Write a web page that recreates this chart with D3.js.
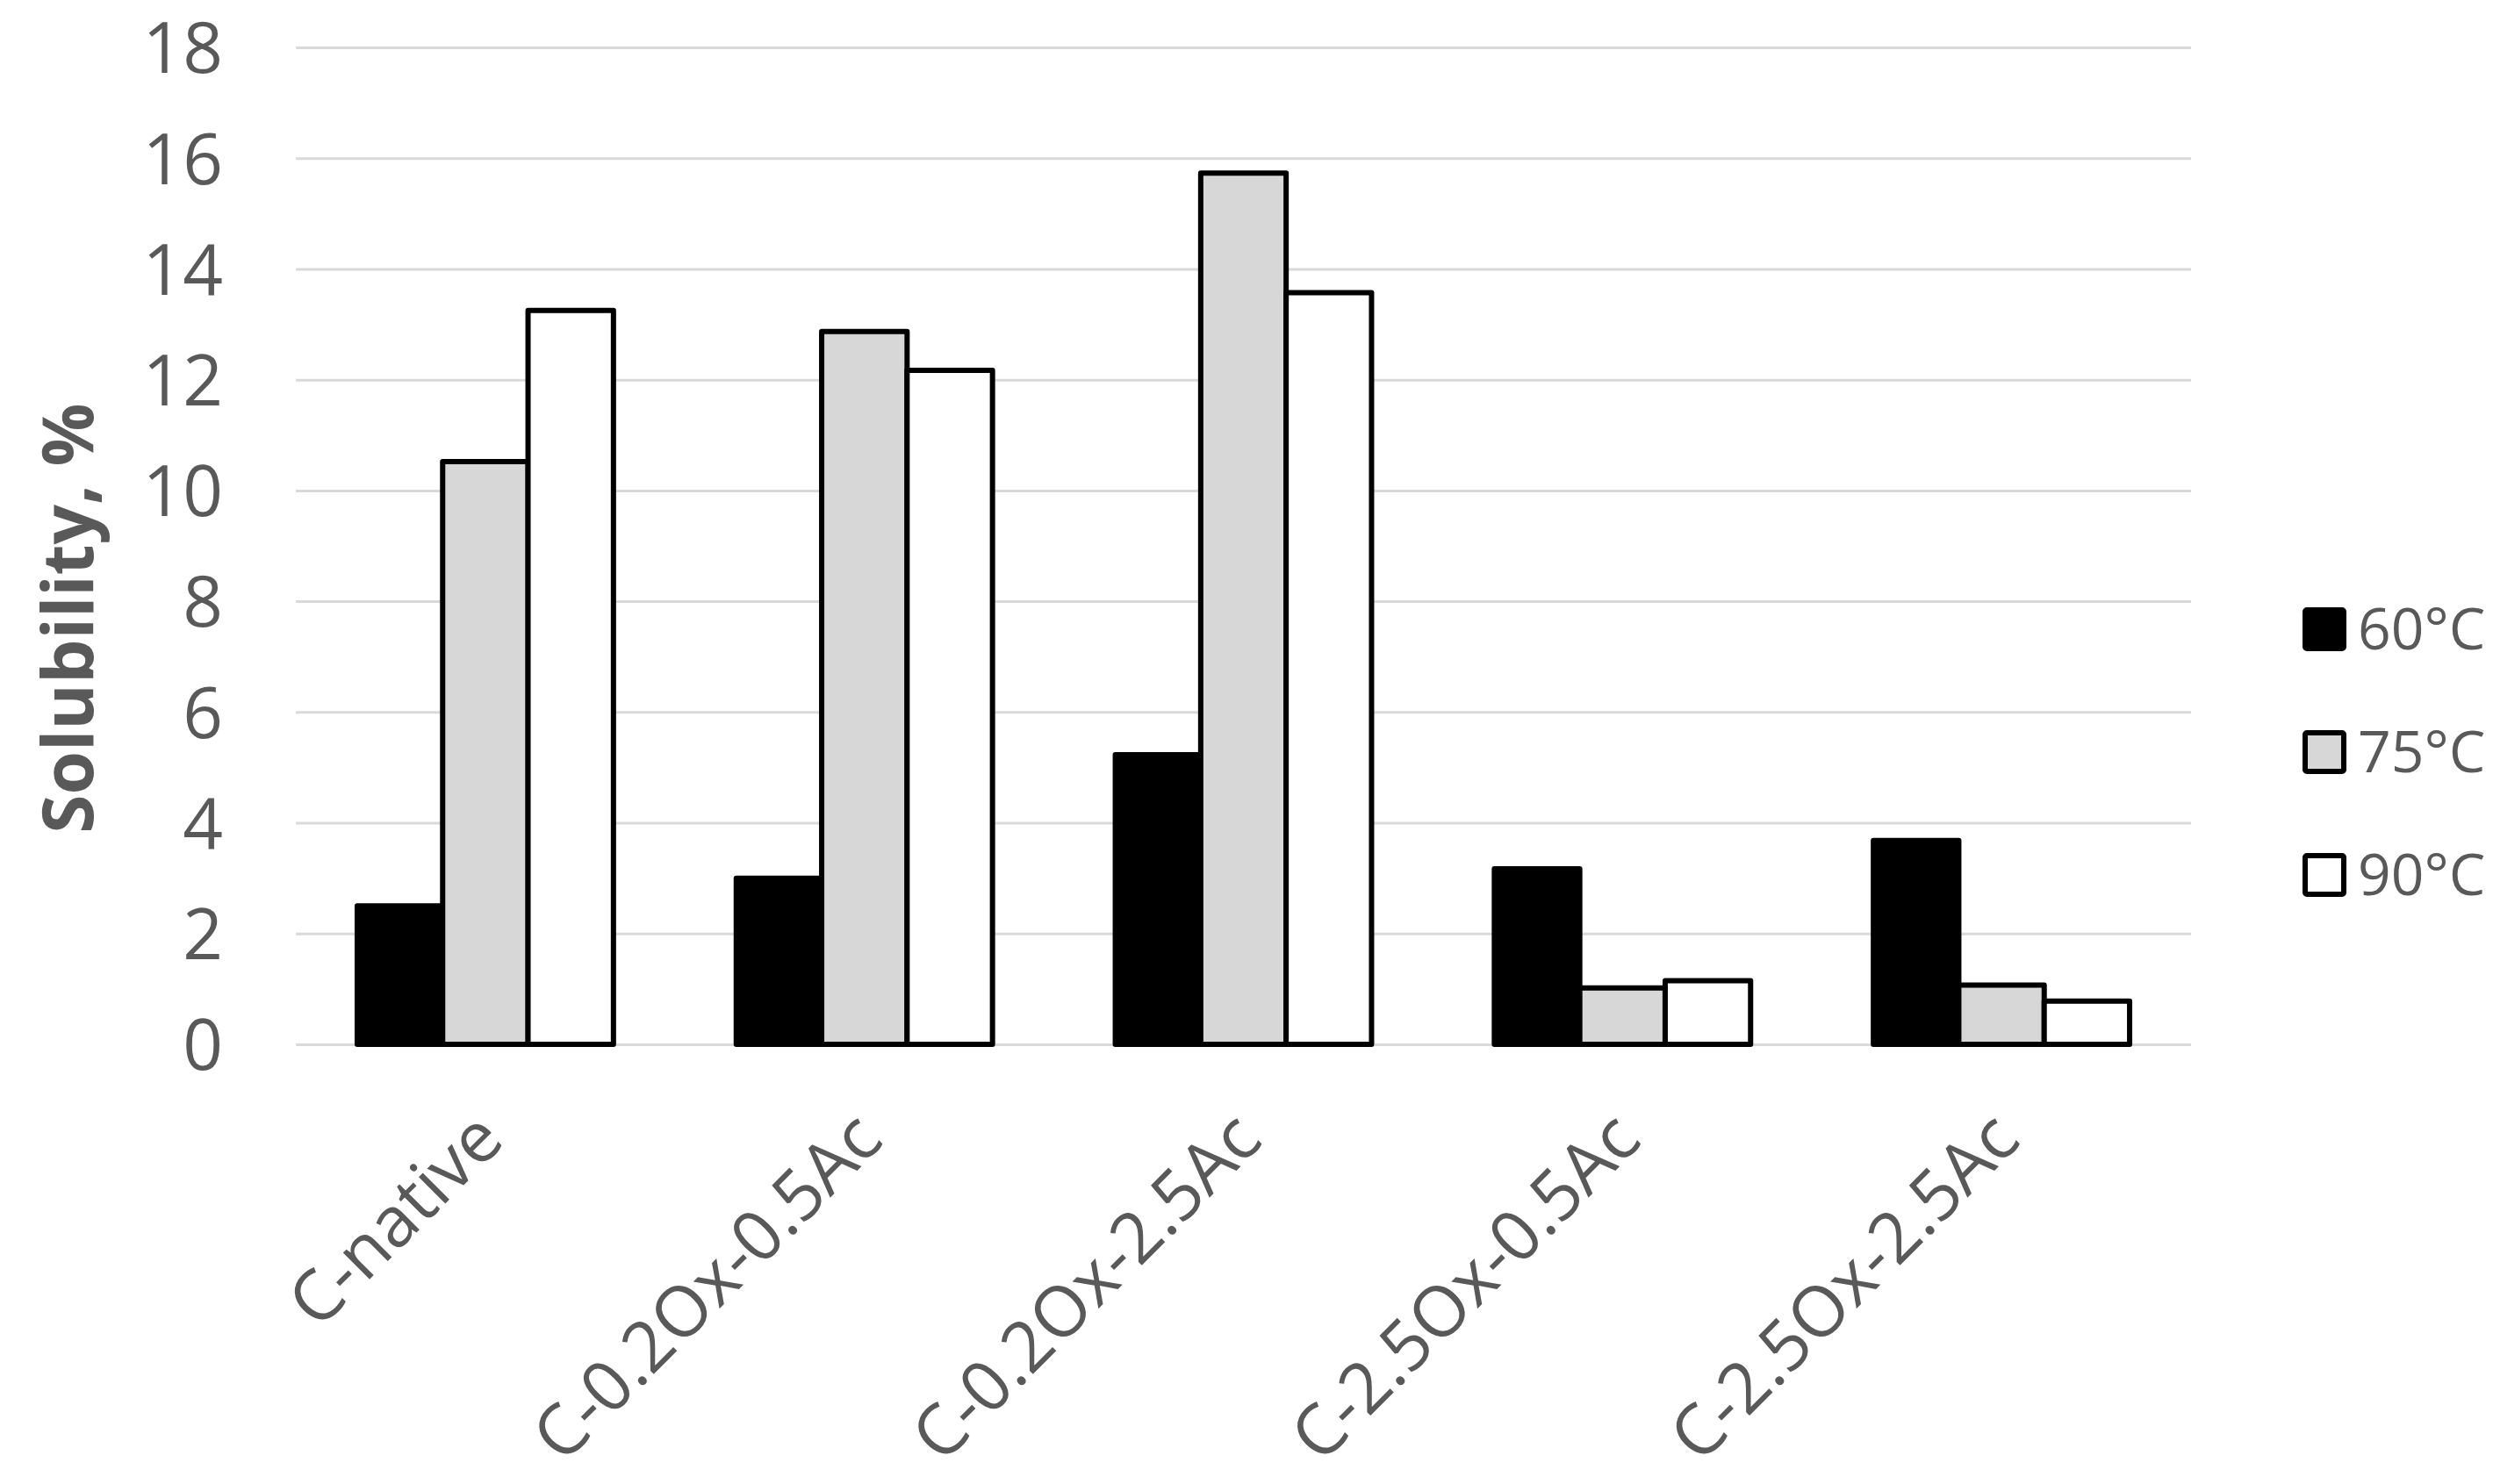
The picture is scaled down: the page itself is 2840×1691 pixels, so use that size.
<!DOCTYPE html>
<html>
<head>
<meta charset="utf-8">
<script src="https://cdn.jsdelivr.net/npm/d3@7"></script>
<style>
  html, body { margin: 0; padding: 0; background: #ffffff; }
  svg { display: block; }
</style>
</head>
<body>
<svg id="chart" width="2840" height="1691"></svg>
<script>
// ---- data ----
const categories = ["C-native", "C-0.2Ox-0.5Ac", "C-0.2Ox-2.5Ac", "C-2.5Ox-0.5Ac", "C-2.5Ox-2.5Ac"];
const seriesNames = ["60°C", "75°C", "90°C"];
const values60 = [2.50, 3.00, 5.23, 3.17, 3.68];
const values75 = [10.52, 12.87, 15.73, 1.02, 1.07];
const values90 = [13.25, 12.17, 13.57, 1.15, 0.78];
const yTicks = [0, 2, 4, 6, 8, 10, 12, 14, 16, 18];
const yTitle = "Solubility, %";

(function () {
const seriesValues = [values60, values75, values90];
const seriesFill = ["#000000", "#d7d7d7", "#ffffff"];

// ---- layout ----
const svg = d3.select("#chart");
const plotLeft = 337, plotRight = 2496, plotTop = 54, plotBottom = 1190;
const textColor = "#595959";
const font = "'Open Sans', 'Noto Sans', sans-serif";

const x0 = d3.scaleBand().domain(categories).range([plotLeft, plotRight])
  .paddingInner(0.324).paddingOuter(0.162);
const x1 = d3.scaleBand().domain(seriesNames).range([0, x0.bandwidth()]).padding(0);
const y = d3.scaleLinear().domain([0, 18]).range([plotBottom, plotTop]);

// gridlines + y tick labels
const yAxis = svg.append("g")
  .attr("transform", `translate(${plotLeft},0)`)
  .call(d3.axisLeft(y).tickValues(yTicks).tickSize(-(plotRight - plotLeft)).tickPadding(83));
yAxis.select(".domain").remove();
yAxis.selectAll(".tick line").attr("stroke", "#d9d9d9").attr("stroke-width", 3);
yAxis.selectAll(".tick text")
  .attr("fill", textColor)
  .attr("dy", "0.36em")
  .style("font-family", font)
  .style("font-size", "80px");

// y title
svg.append("text")
  .attr("transform", `translate(106,${(453 + 956) / 2}) rotate(-90)`)
  .attr("text-anchor", "middle")
  .attr("fill", textColor)
  .style("font-family", font)
  .style("font-size", "80px")
  .style("font-weight", "bold")
  .text(yTitle);

// bars
const groups = svg.append("g").selectAll("g")
  .data(categories)
  .join("g")
  .attr("transform", d => `translate(${x0(d)},0)`);

groups.selectAll("rect")
  .data((c, i) => seriesNames.map((s, k) => ({ s, k, v: seriesValues[k][i] })))
  .join("rect")
  .attr("x", d => x1(d.s))
  .attr("y", d => y(d.v))
  .attr("width", x1.bandwidth())
  .attr("height", d => y(0) - y(d.v))
  .attr("fill", d => seriesFill[d.k])
  .attr("stroke", "#000")
  .attr("stroke-width", 6)
  .attr("stroke-linejoin", "round");

// x axis labels
const xAxis = svg.append("g")
  .attr("transform", `translate(0,${plotBottom})`)
  .call(d3.axisBottom(x0).tickSize(0));
xAxis.select(".domain").remove();
xAxis.selectAll(".tick text")
  .attr("text-anchor", "end")
  .attr("dy", null)
  .attr("y", null)
  .attr("transform", "translate(24,112) rotate(-45)")
  .attr("fill", textColor)
  .style("font-family", font)
  .style("font-size", "80px");

// legend
const legend = svg.append("g");
const legendY = [717, 857, 997];
const sw = 44;
seriesNames.forEach((name, k) => {
  const g = legend.append("g").attr("transform", `translate(2626,${legendY[k]})`);
  g.append("rect")
    .attr("x", 0).attr("y", -sw / 2)
    .attr("width", sw).attr("height", sw)
    .attr("fill", seriesFill[k])
    .attr("stroke", "#000").attr("stroke-width", 6)
    .attr("rx", 2);
  g.append("text")
    .attr("x", sw + 16)
    .attr("y", 0)
    .attr("dy", "0.35em")
    .attr("fill", textColor)
    .style("font-family", font)
    .style("font-size", "66px")
    .text(name);
});
})();
</script>
</body>
</html>
